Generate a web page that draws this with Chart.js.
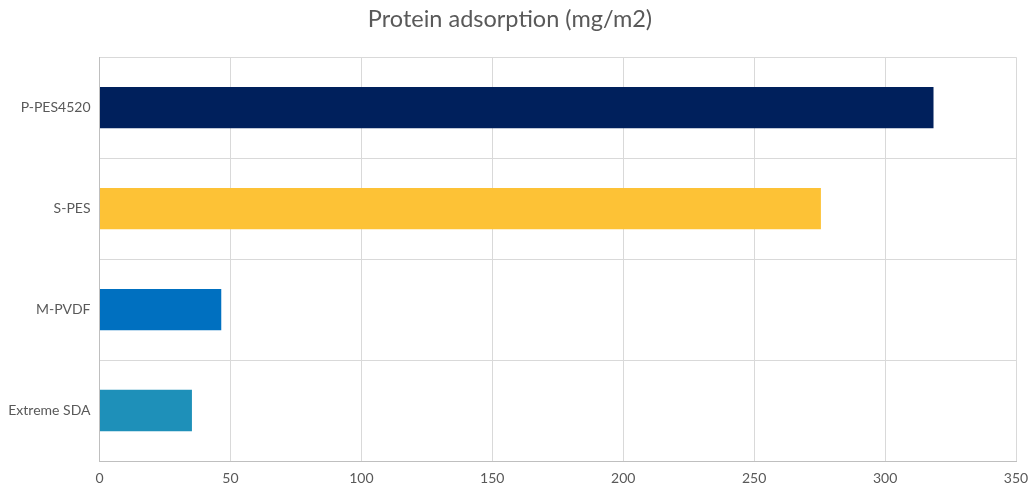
<!DOCTYPE html>
<html><head><meta charset="utf-8">
<script src="https://cdn.jsdelivr.net/npm/chart.js@4"></script>
<style>html,body{margin:0;padding:0;background:#fff}#w{width:1035px;height:497px}</style>
</head><body><div id="w"><canvas id="c"></canvas></div>
<script>
const categories = ["P-PES4520", "S-PES", "M-PVDF", "Extreme SDA"];
const values = [318.5, 275.5, 46.5, 35.3];
const barColors = ["#00205C", "#FDC236", "#0070C0", "#1E90B9"];
const xTicks = [0, 50, 100, 150, 200, 250, 300, 350];
const titleText = "Protein adsorption (mg/m2)";

const FONT = "Lato, 'Source Sans Pro', sans-serif";
new Chart(document.getElementById('c'), {
  type: 'bar',
  data: { labels: categories, datasets: [{ data: values, backgroundColor: barColors, barPercentage: 0.41, categoryPercentage: 1 }] },
  options: {
    indexAxis: 'y', responsive: true, maintainAspectRatio: false, animation: false,
    layout: { padding: { left: 4, right: 19, top: 0, bottom: 0 } },
    plugins: {
      legend: { display: false }, tooltip: { enabled: false },
      title: { display: true, text: titleText, color: '#595959', font: { family: FONT, size: 23.5, weight: 'normal' }, padding: { top: 5, bottom: 24 } }
    },
    scales: {
      x: { min: 0, max: 350, afterBuildTicks: s => { s.ticks = xTicks.map(v => ({ value: v })); },
        afterFit: s => { s.height = 36; s.paddingRight = 0; s.paddingLeft = 0; },
        grid: { color: '#D9D9D9', drawTicks: false }, border: { color: '#BFBFBF' },
        ticks: { color: '#595959', font: { family: FONT, size: 14 }, padding: 9 } },
      y: { grid: { color: '#D9D9D9', drawTicks: false, offset: true }, border: { color: '#BFBFBF' },
        afterFit: s => { s.width = 95.5; },
        ticks: { color: '#595959', font: { family: FONT, size: 14 }, padding: 9 } }
    }
  }
});
</script></body></html>
